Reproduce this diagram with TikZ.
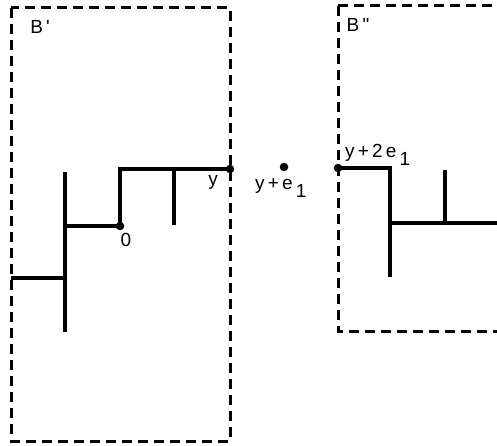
\documentclass[tikz,border=0pt]{standalone}
\usepackage{fontspec}
\setmainfont{Liberation Sans}
\begin{document}
\begin{tikzpicture}[x=1pt,y=-1pt,
  boxline/.style={line width=3pt,dash pattern=on 10pt off 6pt},
  bond/.style={line width=3.2pt},
  site/.style={circle,fill=black,inner sep=0pt,minimum size=8.5pt},
  lbl/.style={inner sep=0pt,font=\fontsize{19}{21}\selectfont}]
\useasboundingbox (0,0) rectangle (497,446);
\clip (0,0) rectangle (497,446);
% the two boxes
\draw[boxline] (11,8) rectangle (230,441);
\draw[boxline] (338,6) rectangle (530,331);
\node[lbl] (bp) at (40,27) {B\,\textquotesingle};
\node[lbl] (bpp) at (358,25) {B\,\textquotedbl};
% sites
\node[site] (o) at (120,226) {};
\node[site] (y) at (230,169) {};
\node[site] (ye) at (284,167) {};
\node[site] (y2e) at (338,168) {};
% left path
\coordinate (l0) at (11,278);
\coordinate (l1) at (65,278);
\coordinate (t1) at (65,172);
\coordinate (b1) at (65,332);
\coordinate (m1) at (65,226);
\coordinate (c1) at (120,169);
\coordinate (k1) at (174,169);
\coordinate (k2) at (174,225);
\draw[bond] (l0) -- (l1);
\draw[bond] (t1) -- (b1);
\draw[bond] (m1) -- (o.center) -- (c1) -- (y.center);
\draw[bond] (k1) -- (k2);
% right path
\coordinate (r1) at (390,168);
\coordinate (r2) at (390,277);
\coordinate (r3) at (390,223);
\coordinate (r4) at (497,223);
\coordinate (k3) at (445,170);
\coordinate (k4) at (445,223);
\draw[bond] (y2e.center) -- (r1) -- (r2);
\draw[bond] (r3) -- (r4);
\draw[bond] (k3) -- (k4);
% labels
\node[lbl] (lo) at (126,240) {0};
\node[lbl] (ly) at (213,182) {y};
\node[lbl,anchor=west] (lye) at (255,188) {y\,+\,e\,\raisebox{-8pt}{1}};
\node[lbl,anchor=west] (ly2e) at (345,155) {y\,+\,2\,e\,\raisebox{-8pt}{1}};
\end{tikzpicture}
\end{document}
